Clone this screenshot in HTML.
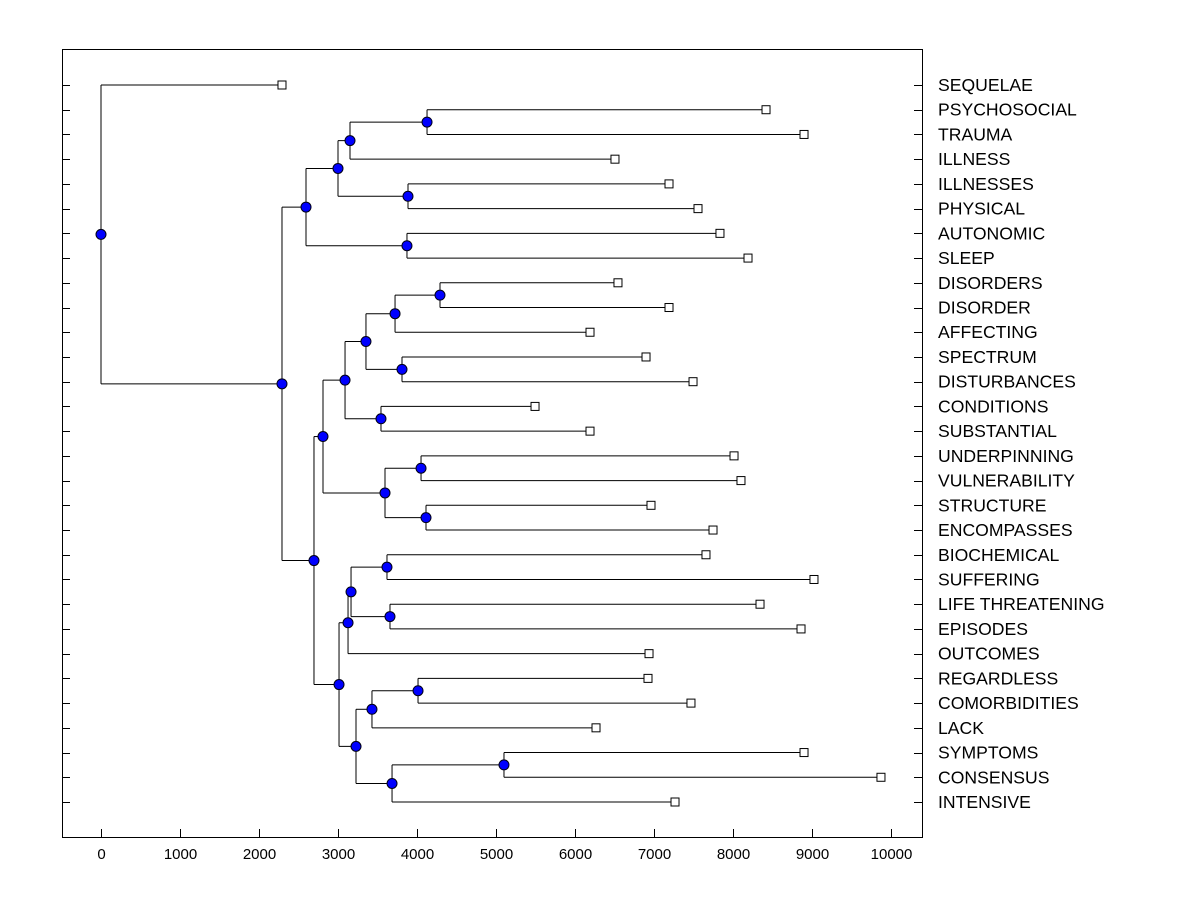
<!DOCTYPE html>
<html><head><meta charset="utf-8"><style>
html,body{margin:0;padding:0;background:#fff;}
svg text{font-family:"Liberation Sans",Arial,sans-serif;}
</style></head><body>
<svg id="chart" width="1200" height="900" viewBox="0 0 1200 900" xmlns="http://www.w3.org/2000/svg">
<rect x="0" y="0" width="1200" height="900" fill="#fff"/>
<rect x="62.5" y="49.5" width="860" height="788" fill="none" stroke="#000" stroke-width="1"/>
<g id="links"></g><g id="marks"></g><g id="axes"></g>
</svg>
<script>
const leafLabels = ["SEQUELAE","PSYCHOSOCIAL","TRAUMA","ILLNESS","ILLNESSES","PHYSICAL","AUTONOMIC","SLEEP","DISORDERS","DISORDER","AFFECTING","SPECTRUM","DISTURBANCES","CONDITIONS","SUBSTANTIAL","UNDERPINNING","VULNERABILITY","STRUCTURE","ENCOMPASSES","BIOCHEMICAL","SUFFERING","LIFE THREATENING","EPISODES","OUTCOMES","REGARDLESS","COMORBIDITIES","LACK","SYMPTOMS","CONSENSUS","INTENSIVE"];
const leafHeights = [2291,8418,8899,6506,7190,7557,7835,8190,6544,7190,6190,6899,7494,5494,6190,8013,8101,6962,7747,7658,9025,8342,8861,6937,6924,7468,6266,8899,9873,7266];
const mergeLeft  = [1,30,4,31,6,33,8,36,11,37,13,39,15,17,42,41,19,21,46,48,24,50,27,52,51,49,45,35,0];
const mergeRight = [2,3,5,32,7,34,9,10,12,38,14,40,16,18,43,44,20,22,47,23,25,26,28,29,53,54,55,56,57];
const mergeHeights = [4127,3152,3886,3000,3873,2595,4291,3722,3810,3354,3544,3089,4051,4114,3595,2810,3620,3658,3165,3127,4013,3430,5101,3684,3228,3013,2696,2291,0];
const xTicks = [0,1000,2000,3000,4000,5000,6000,7000,8000,9000,10000];

const NS="http://www.w3.org/2000/svg";
const xScale = v => 101 + v*0.079;
const rowY = i => 85 + i*(802-85)/29;
function mk(tag, attrs, parent){const e=document.createElementNS(NS,tag);for(const k in attrs)e.setAttribute(k,attrs[k]);parent.appendChild(e);return e;}
const links=document.getElementById('links'), marks=document.getElementById('marks'), axes=document.getElementById('axes');

const nx=[], ny=[];
leafHeights.forEach((h,i)=>{nx.push(xScale(h)); ny.push(rowY(i));});
const nodeIdx=[];
mergeHeights.forEach((h,m)=>{
  const a=mergeLeft[m], b=mergeRight[m];
  const x=xScale(h), y=(ny[a]+ny[b])/2;
  const vl=mk('line',{x1:x,y1:ny[a],x2:x,y2:ny[b],stroke:'#000','stroke-width':1},links);
  
  
  [a,b].forEach(c=>{
    const hl=mk('line',{x1:x,y1:ny[c],x2:nx[c],y2:ny[c],stroke:'#000','stroke-width':1},links);
    
    
  });
  nx.push(x); ny.push(y); nodeIdx.push(nx.length-1);
});
nodeIdx.forEach(i=>{
  const c=mk('circle',{cx:nx[i],cy:ny[i],r:5,fill:'#0000ff',stroke:'#000014','stroke-width':1},marks);
  
  
});
leafLabels.forEach((lab,i)=>{
  const s=mk('rect',{x:nx[i]-4,y:ny[i]-4,width:8,height:8,fill:'#fff',stroke:'#000','stroke-width':1},marks);
  
  
  const y=Math.round(rowY(i))+0.5;
  const t1=mk('line',{x1:62,y1:y,x2:70,y2:y,stroke:'#000'},axes);
  
  
  const t2=mk('line',{x1:914,y1:y,x2:922,y2:y,stroke:'#000'},axes);
  
  
  const t=mk('text',{x:938,y:rowY(i)+6,'font-size':17.6,fill:'#000'},axes);
  t.textContent=lab;
  
  
});
xTicks.forEach(v=>{
  const x=Math.round(xScale(v))+0.5;
  const tk=mk('line',{x1:x,y1:829,x2:x,y2:837,stroke:'#000'},axes);
  
  
  const t=mk('text',{x:x,y:859,'font-size':15,'text-anchor':'middle',fill:'#000'},axes);
  t.textContent=v;
  
  
});
</script>
</body></html>
